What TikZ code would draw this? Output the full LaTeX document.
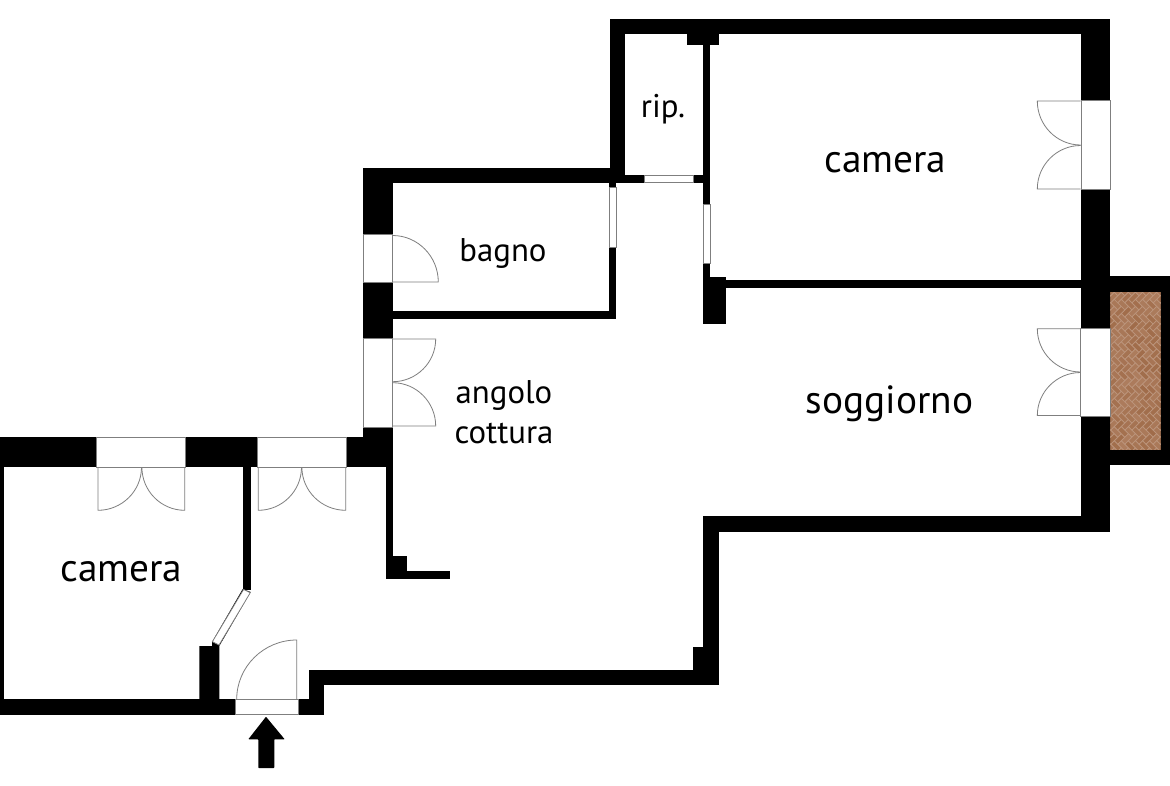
\documentclass[tikz,border=0pt]{standalone}
\usepackage{fontspec}
\setmainfont{PT Sans}
\usetikzlibrary{calc}
\definecolor{brickA}{HTML}{A06C4A}
\definecolor{brickB}{HTML}{AD7D5E}
\definecolor{brickLine}{HTML}{BC957C}
\definecolor{fineLine}{HTML}{7F7F7F}
\tikzset{
  wall/.style={fill=black,draw=none},
  win/.style={fill=white,draw=fineLine,line width=.7pt},
  leaf/.style={draw=fineLine,line width=.8pt},
  roomlabel/.style={anchor=base,inner sep=0pt,text=black,font=\fontsize{39.3}{39.3}\selectfont},
  smalllabel/.style={anchor=base,inner sep=0pt,text=black,font=\fontsize{32.8}{32.8}\selectfont},
}
% hinge, tip of the leaf, end of the swing arc
\newcommand{\doorleaf}[3]{\draw[leaf] #1 -- #2 .. controls ($#2+.55*#3-.55*#1$) and ($#3+.55*#2-.55*#1$) .. #3;}
\newcommand{\wl}[2]{\fill[wall] #1 rectangle #2;}
\newcommand{\wn}[2]{\path[win] #1 rectangle #2;}
\begin{document}
\begin{tikzpicture}[x=1pt,y=-1pt]
\useasboundingbox (0,0) rectangle (1170,785);
\fill[white] (0,0) rectangle (1170,785);
% fireplace
\wl{(1110,276)}{(1170,465)}
\begin{scope}
\clip (1110.3,292) rectangle (1160.7,449.3);
\fill[brickA] (1110,292) rectangle (1161,450);
\pgfmathsetseed{7}
\begin{scope}[shift={(1135.5,370)},rotate=45,line width=.7pt]
\def\a{5}
\foreach \i in {-14,...,14}{
  \foreach \j in {-14,...,14}{
    \pgfmathsetmacro{\ox}{(\i+3*\j)*\a}
    \pgfmathsetmacro{\oy}{(\i-\j)*\a}
    \pgfmathsetmacro{\mixA}{int(random(0,100))}
    \pgfmathsetmacro{\mixB}{int(random(0,100))}
    \path[fill=brickA!\mixA!brickB,draw=brickLine] (\ox,\oy) rectangle ++(2*\a,\a);
    \path[fill=brickA!\mixB!brickB,draw=brickLine] (\ox+2*\a,\oy-\a) rectangle ++(\a,2*\a);
  }
}
\end{scope}
\end{scope}
% top block: ripostiglio and camera
\wl{(609.7,18.7)}{(1110.3,34)}
\wl{(609.7,18.7)}{(625,183)}
\wl{(687,34)}{(718.7,45)}
\wl{(702.7,34)}{(710.3,276.7)}
\wl{(702.7,263)}{(710.3,324)}
\wl{(702.7,276.7)}{(726,324)}
\wl{(726,280)}{(1081,287.7)}
\wl{(625,175)}{(702.7,182.7)}
% right wall
\wl{(1081,18.7)}{(1110.3,532)}
% bagno
\wl{(362.7,167.7)}{(625,183.3)}
\wl{(362.7,167.7)}{(392.7,467.3)}
\wl{(608.7,183)}{(616.3,318.7)}
\wl{(392.7,310.7)}{(616.3,318.7)}
% north walls of the lower part
\wl{(0,437.3)}{(362.7,467.3)}
\wl{(362.7,427)}{(392.7,467.3)}
\wl{(362.7,437.3)}{(385.7,467.3)}
\wl{(385.7,467.3)}{(393,579.3)}
\wl{(385.7,555.7)}{(407.3,579.3)}
\wl{(385.7,571)}{(450.3,579.3)}
% camera left
\wl{(0,437.3)}{(4,714.7)}
\wl{(242.7,467)}{(250.7,590)}
\fill[wall] (242.7,589) -- (250.7,592) -- (219.3,646) -- (219.3,699.5) -- (199.3,699.5) -- (199.3,646) -- (212,646) -- (212,642) -- cycle;
\path[win] (243.6,589.5) -- (250.2,592.8) -- (219,645) -- (212.4,641.7) -- cycle;
\wl{(0,699.3)}{(324.3,714.7)}
% south walls
\wl{(308.7,670)}{(324.3,714.7)}
\wl{(308.7,670)}{(718.7,685.3)}
\wl{(692.7,646.7)}{(718.7,685.3)}
\wl{(703.3,516)}{(718.7,685.3)}
\wl{(703.3,516.3)}{(1110.3,532)}
% windows
\wn{(644,175.3)}{(693,182.7)}
\wn{(702.9,204)}{(710.1,263)}
\wn{(608.9,187.7)}{(616.1,247.3)}
\wn{(1081,100.5)}{(1110.3,189)}
\wn{(1080.6,328)}{(1110.3,416)}
\wn{(362.9,234.3)}{(392.7,282)}
\wn{(362.9,338.3)}{(392.7,427)}
\wn{(96.7,437.5)}{(185.3,467.3)}
\wn{(257.3,437.5)}{(346.3,467.3)}
\wn{(235,699.3)}{(298,714.5)}
% doors
\doorleaf{(1080.6,101)}{(1037.3,101)}{(1080.6,145)}
\doorleaf{(1080.6,189)}{(1037.3,189)}{(1080.6,145.5)}
\doorleaf{(1080.6,328.7)}{(1037.3,328.7)}{(1080.6,372)}
\doorleaf{(1080.6,415.5)}{(1037.3,415.5)}{(1080.6,372.5)}
\doorleaf{(392.7,282)}{(438.3,282)}{(392.7,235.5)}
\doorleaf{(392.7,339)}{(435.7,339)}{(392.7,381.7)}
\doorleaf{(392.7,426)}{(435.7,426)}{(392.7,382.7)}
\doorleaf{(98,467.3)}{(98,510.3)}{(141.5,467.3)}
\doorleaf{(184.7,467.3)}{(184.7,510.3)}{(141.9,467.3)}
\doorleaf{(258.3,467.3)}{(258.3,510.3)}{(301.5,467.3)}
\doorleaf{(345.7,467.3)}{(345.7,510.3)}{(301.9,467.3)}
\doorleaf{(296.7,699.3)}{(296.7,640)}{(236.7,699.3)}
% entrance arrow
\fill[wall,rounded corners=.6pt] (266,716.7) -- (284.7,739.3) -- (274.3,739.3) -- (274.3,768) -- (258.3,768) -- (258.3,739.3) -- (248.3,739.3) -- cycle;
% labels
\node[roomlabel] (cameraA) at (885.5,172) {camera};
\node[roomlabel] (cameraB) at (121.5,581.7) {camera};
\node[roomlabel] (soggiorno) at (889.5,413) {soggiorno};
\node[smalllabel] (bagno) at (503,261.7) {bagno};
\node[smalllabel] (rip) at (663,117) {rip.};
\node[smalllabel] (angolo) at (504,403) {angolo};
\node[smalllabel] (cottura) at (504,443) {cottura};
\end{tikzpicture}
\end{document}
